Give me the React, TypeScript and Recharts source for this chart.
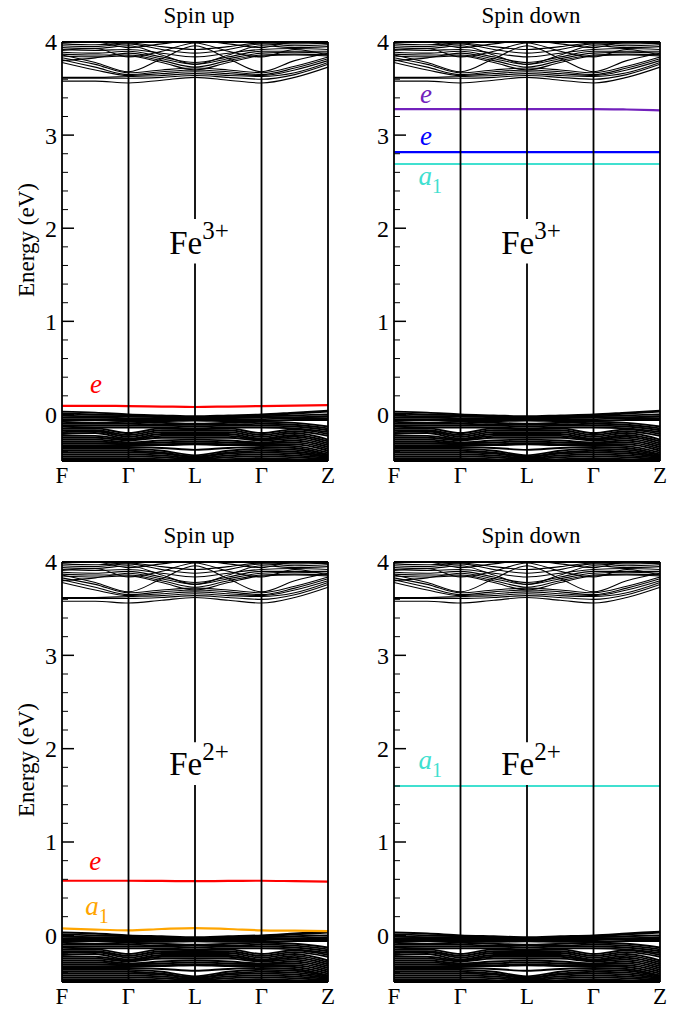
import React from "react";
import { LineChart, Line, XAxis, YAxis, ReferenceLine, ReferenceDot } from "recharts";

const SERIF = "'Liberation Serif', 'Times New Roman', serif";

// k-path sampling: F, Γ, L, Γ, Z at integers, midpoints in between
const K_POINTS = [0, 0.5, 1, 1.5, 2, 2.5, 3, 3.5, 4];
const K_TICKS = [0, 1, 2, 3, 4];
const K_LABELS = ["F", "Γ", "L", "Γ", "Z"];
const Y_TICKS = [
  -0.4, -0.2, 0, 0.2, 0.4, 0.6, 0.8, 1, 1.2, 1.4, 1.6, 1.8, 2, 2.2, 2.4, 2.6,
  2.8, 3, 3.2, 3.4, 3.6, 3.8, 4,
];

// host conduction bands (eV), one row per band
const CONDUCTION_BANDS = [
  [3.58, 3.58, 3.56, 3.59, 3.62, 3.59, 3.56, 3.62, 3.73],
  [3.61, 3.61, 3.61, 3.62, 3.64, 3.62, 3.6, 3.65, 3.76],
  [3.62, 3.62, 3.63, 3.64, 3.66, 3.64, 3.63, 3.67, 3.78],
  [3.78, 3.7, 3.64, 3.66, 3.68, 3.66, 3.64, 3.7, 3.8],
  [3.81, 3.73, 3.65, 3.68, 3.7, 3.68, 3.65, 3.72, 3.82],
  [3.83, 3.76, 3.67, 3.7, 3.72, 3.7, 3.67, 3.74, 3.84],
  [3.85, 3.84, 3.85, 3.78, 3.7, 3.78, 3.85, 3.86, 3.85],
  [3.87, 3.86, 3.86, 3.8, 3.73, 3.8, 3.86, 3.87, 3.86],
  [3.8, 3.83, 3.88, 3.82, 3.76, 3.82, 3.88, 3.89, 3.88],
  [3.86, 3.78, 3.68, 3.82, 3.96, 3.82, 3.68, 3.8, 3.88],
  [3.89, 3.88, 3.9, 3.84, 3.78, 3.84, 3.9, 3.9, 3.9],
  [3.92, 3.91, 3.92, 3.88, 3.84, 3.88, 3.92, 3.93, 3.92],
  [3.94, 3.93, 3.96, 3.86, 3.76, 3.86, 3.96, 3.94, 3.95],
  [3.96, 3.95, 3.98, 3.92, 3.88, 3.92, 3.98, 3.96, 3.97],
  [3.98, 3.97, 3.99, 3.95, 3.92, 3.95, 3.99, 3.98, 3.99],
  [3.91, 3.93, 3.84, 3.9, 3.99, 3.9, 3.84, 3.92, 3.86],
  [3.99, 4.0, 3.94, 3.98, 4.02, 3.98, 3.94, 4.0, 3.98],
];

// host valence bands (eV)
const VALENCE_BANDS = [
  [0.03, 0.02, 0.0, -0.01, -0.02, -0.01, 0.0, 0.02, 0.04],
  [0.01, 0.0, -0.01, -0.02, -0.03, -0.02, -0.01, 0.01, 0.03],
  [-0.01, -0.02, -0.02, -0.03, -0.04, -0.03, -0.02, -0.01, 0.0],
  [-0.03, -0.03, -0.04, -0.04, -0.05, -0.04, -0.03, -0.03, -0.02],
  [-0.05, -0.05, -0.05, -0.05, -0.06, -0.05, -0.05, -0.04, -0.04],
  [-0.07, -0.06, -0.07, -0.07, -0.065, -0.07, -0.07, -0.06, -0.06],
  [-0.08, -0.09, -0.08, -0.09, -0.1, -0.09, -0.08, -0.09, -0.13],
  [-0.1, -0.1, -0.1, -0.11, -0.11, -0.11, -0.1, -0.11, -0.15],
  [-0.12, -0.12, -0.12, -0.12, -0.13, -0.12, -0.12, -0.13, -0.17],
  [-0.13, -0.14, -0.14, -0.14, -0.15, -0.14, -0.14, -0.15, -0.19],
  [-0.15, -0.15, -0.2, -0.15, -0.16, -0.15, -0.2, -0.16, -0.21],
  [-0.17, -0.17, -0.22, -0.17, -0.17, -0.17, -0.22, -0.18, -0.23],
  [-0.19, -0.18, -0.24, -0.19, -0.19, -0.19, -0.24, -0.2, -0.27],
  [-0.21, -0.2, -0.26, -0.21, -0.21, -0.21, -0.26, -0.22, -0.29],
  [-0.23, -0.23, -0.27, -0.23, -0.23, -0.23, -0.27, -0.24, -0.31],
  [-0.25, -0.25, -0.28, -0.25, -0.25, -0.25, -0.28, -0.26, -0.33],
  [-0.27, -0.27, -0.3, -0.28, -0.27, -0.28, -0.3, -0.28, -0.35],
  [-0.29, -0.29, -0.31, -0.3, -0.29, -0.3, -0.31, -0.3, -0.37],
  [-0.31, -0.31, -0.32, -0.32, -0.31, -0.32, -0.32, -0.32, -0.39],
  [-0.33, -0.33, -0.33, -0.33, -0.32, -0.33, -0.33, -0.34, -0.41],
  [-0.35, -0.35, -0.35, -0.36, -0.38, -0.36, -0.35, -0.36, -0.43],
  [-0.37, -0.37, -0.37, -0.39, -0.44, -0.39, -0.37, -0.38, -0.44],
  [-0.39, -0.39, -0.39, -0.41, -0.45, -0.41, -0.39, -0.4, -0.45],
  [-0.41, -0.41, -0.41, -0.42, -0.46, -0.42, -0.41, -0.42, -0.46],
  [-0.43, -0.43, -0.43, -0.44, -0.47, -0.44, -0.43, -0.44, -0.47],
  [-0.45, -0.45, -0.45, -0.46, -0.48, -0.46, -0.45, -0.46, -0.48],
  [-0.47, -0.47, -0.47, -0.48, -0.49, -0.48, -0.47, -0.48, -0.49],
  [-0.49, -0.49, -0.49, -0.49, -0.5, -0.49, -0.49, -0.49, -0.5],
];

// defect levels
const FE3_UP_E = [0.093, 0.092, 0.09, 0.085, 0.08, 0.085, 0.09, 0.095, 0.1];
const FE3_DOWN_E_HIGH = [3.28, 3.28, 3.28, 3.28, 3.28, 3.28, 3.28, 3.275, 3.266];
const FE3_DOWN_E_LOW = [2.817, 2.817, 2.817, 2.817, 2.817, 2.817, 2.817, 2.817, 2.817];
const FE3_DOWN_A1 = [2.69, 2.69, 2.69, 2.69, 2.69, 2.69, 2.69, 2.69, 2.69];
const FE2_UP_E = [0.585, 0.585, 0.585, 0.583, 0.58, 0.583, 0.585, 0.58, 0.575];
const FE2_UP_A1 = [0.075, 0.062, 0.054, 0.068, 0.078, 0.068, 0.054, 0.05, 0.046];
const FE2_DOWN_A1 = [1.6, 1.6, 1.6, 1.6, 1.6, 1.6, 1.6, 1.6, 1.6];

const RED = "#ff0000";
const INDIGO = "#7221bc";
const BLUE = "#0000ff";
const TURQUOISE = "#40e0d0";
const ORANGE = "#ffa500";

type Level = { values: number[]; color: string };
type Tag = { k: number; e: number; text: string; sub?: string; color: string };

const YTick = (props: any) => {
  const { x, y, payload } = props;
  const v = payload.value;
  const major = Math.abs(v - Math.round(v)) < 1e-6;
  return (
    <g>
      <line
        x1={x}
        x2={x + (major ? 12 : 6)}
        y1={y}
        y2={y}
        stroke="#000"
        strokeWidth={major ? 1.5 : 1}
      />
      {major && (
        <text
          x={x - 5}
          y={y}
          dy="0.35em"
          textAnchor="end"
          fontSize={24}
          fontFamily={SERIF}
          style={{ fontFamily: SERIF }}
          fill="#000"
        >
          {v}
        </text>
      )}
    </g>
  );
};

const XTick = (props: any) => {
  const { x, y, payload } = props;
  return (
    <text
      x={x}
      y={y + 22}
      textAnchor="middle"
      fontSize={23}
      fontFamily={SERIF}
      style={{ fontFamily: SERIF }}
      fill="#000"
    >
      {K_LABELS[K_TICKS.indexOf(payload.value)]}
    </text>
  );
};

function Panel({
  title,
  charge,
  levels,
  tags,
  left,
  top,
  width,
  height,
  margin,
  gap,
}: {
  title: string;
  charge: string;
  levels: Level[];
  tags: Tag[];
  left: number;
  top: number;
  width: number;
  height: number;
  margin: { top: number; right: number; bottom: number; left: number };
  gap: [number, number];
}) {
  const data = K_POINTS.map((k, i) => {
    const row: Record<string, number> = { k };
    CONDUCTION_BANDS.forEach((b, j) => (row[`c${j}`] = b[i]));
    VALENCE_BANDS.forEach((b, j) => (row[`v${j}`] = b[i]));
    levels.forEach((l, j) => (row[`d${j}`] = l.values[i]));
    return row;
  });

  const plotLeft = margin.left + 40;
  const plotRight = width - margin.right;

  return (
    <div style={{ position: "absolute", left, top, width, height }}>
      <div
        style={{
          position: "absolute",
          left: (plotLeft + plotRight) / 2 + 4,
          top: 4,
          transform: "translateX(-50%)",
          fontFamily: SERIF,
          fontSize: 23,
          lineHeight: "23px",
          whiteSpace: "nowrap",
        }}
      >
        {title}
      </div>
      <LineChart width={width} height={height} data={data} margin={margin}>
        <XAxis
          dataKey="k"
          type="number"
          domain={[0, 4]}
          ticks={K_TICKS}
          interval={0}
          height={30}
          tickSize={0}
          tickMargin={0}
          axisLine={false}
          tickLine={false}
          tick={<XTick />}
        />
        <YAxis
          type="number"
          domain={[-0.5, 4]}
          allowDataOverflow
          ticks={Y_TICKS}
          interval={0}
          width={40}
          tickSize={0}
          tickMargin={0}
          axisLine={false}
          tickLine={false}
          tick={<YTick />}
        />
        {VALENCE_BANDS.map((_, j) => (
          <Line
            key={`v${j}`}
            dataKey={`v${j}`}
            type="monotone"
            stroke="#000"
            strokeWidth={1.9}
            dot={false}
            activeDot={false}
            isAnimationActive={false}
          />
        ))}
        {CONDUCTION_BANDS.map((_, j) => (
          <Line
            key={`c${j}`}
            dataKey={`c${j}`}
            type="monotone"
            stroke="#000"
            strokeWidth={1.1}
            dot={false}
            activeDot={false}
            isAnimationActive={false}
          />
        ))}
        {levels.map((l, j) => (
          <Line
            key={`d${j}`}
            dataKey={`d${j}`}
            type="monotone"
            stroke={l.color}
            strokeWidth={2.2}
            dot={false}
            activeDot={false}
            isAnimationActive={false}
          />
        ))}
        <ReferenceLine x={1} stroke="#000" strokeWidth={1.8} />
        <ReferenceLine x={3} stroke="#000" strokeWidth={1.8} />
        <ReferenceLine
          segment={[
            { x: 2, y: 4 },
            { x: 2, y: gap[0] },
          ]}
          stroke="#000"
          strokeWidth={1.8}
        />
        <ReferenceLine
          segment={[
            { x: 2, y: gap[1] },
            { x: 2, y: -0.5 },
          ]}
          stroke="#000"
          strokeWidth={1.8}
        />
        <ReferenceLine x={0} stroke="#000" strokeWidth={1.8} />
        <ReferenceLine x={4} stroke="#000" strokeWidth={1.8} />
        <ReferenceLine y={4} stroke="#000" strokeWidth={1.8} />
        <ReferenceLine y={-0.5} stroke="#000" strokeWidth={1.8} />
        <ReferenceDot
          x={2.06}
          y={1.72}
          r={0}
          fill="none"
          stroke="none"
          label={(p: any) => (
            <text
              x={p.viewBox.x}
              y={p.viewBox.y}
              textAnchor="middle"
              fontFamily={SERIF}
              style={{ fontFamily: SERIF }}
              fontSize={33}
              fill="#000"
            >
              Fe
              <tspan dy={-15} fontSize={25}>
                {charge}
              </tspan>
            </text>
          )}
        />
        {tags.map((t, j) => (
          <ReferenceDot
            key={`t${j}`}
            x={t.k}
            y={t.e}
            r={0}
            fill="none"
            stroke="none"
            label={(p: any) => (
              <text
                x={p.viewBox.x}
                y={p.viewBox.y}
                fontFamily={SERIF}
                style={{ fontFamily: SERIF }}
                fontSize={27}
                fontStyle="italic"
                fill={t.color}
              >
                {t.text}
                {t.sub && (
                  <tspan dy={8} fontSize={20} fontStyle="normal">
                    {t.sub}
                  </tspan>
                )}
              </text>
            )}
          />
        ))}
      </LineChart>
    </div>
  );
}

const EnergyLabel = ({ top }: { top: number }) => (
  <div
    style={{
      position: "absolute",
      left: 27,
      top,
      transform: "translate(-50%, -50%) rotate(-90deg)",
      fontFamily: SERIF,
      fontSize: 23,
      whiteSpace: "nowrap",
    }}
  >
    Energy (eV)
  </div>
);

export default function App() {
  const leftMargin = { top: 42, right: 12, bottom: 4, left: 22 };
  const rightMargin = { top: 42, right: 19, bottom: 4, left: 14 };
  return (
    <div
      style={{
        position: "absolute",
        left: 0,
        top: 0,
        width: 679,
        height: 1010,
        overflow: "hidden",
        background: "#fff",
      }}
    >
      <Panel
        title="Spin up"
        charge="3+"
        levels={[{ values: FE3_UP_E, color: RED }]}
        tags={[{ k: 0.42, e: 0.23, text: "e", color: RED }]}
        left={0}
        top={0}
        width={340}
        height={495}
        margin={leftMargin}
        gap={[2.1, 1.62]}
      />
      <Panel
        title="Spin down"
        charge="3+"
        levels={[
          { values: FE3_DOWN_E_HIGH, color: INDIGO },
          { values: FE3_DOWN_E_LOW, color: BLUE },
          { values: FE3_DOWN_A1, color: TURQUOISE },
        ]}
        tags={[
          { k: 0.39, e: 3.345, text: "e", color: INDIGO },
          { k: 0.39, e: 2.894, text: "e", color: BLUE },
          { k: 0.37, e: 2.46, text: "a", sub: "1", color: TURQUOISE },
        ]}
        left={340}
        top={0}
        width={339}
        height={495}
        margin={rightMargin}
        gap={[2.1, 1.62]}
      />
      <Panel
        title="Spin up"
        charge="2+"
        levels={[
          { values: FE2_UP_E, color: RED },
          { values: FE2_UP_A1, color: ORANGE },
        ]}
        tags={[
          { k: 0.41, e: 0.7, text: "e", color: RED },
          { k: 0.35, e: 0.218, text: "a", sub: "1", color: ORANGE },
        ]}
        left={0}
        top={520}
        width={340}
        height={492}
        margin={{ ...leftMargin, bottom: 0 }}
        gap={[2.07, 1.61]}
      />
      <Panel
        title="Spin down"
        charge="2+"
        levels={[{ values: FE2_DOWN_A1, color: TURQUOISE }]}
        tags={[{ k: 0.37, e: 1.78, text: "a", sub: "1", color: TURQUOISE }]}
        left={340}
        top={520}
        width={339}
        height={492}
        margin={{ ...rightMargin, bottom: 0 }}
        gap={[2.07, 1.61]}
      />
      <EnergyLabel top={240} />
      <EnergyLabel top={760} />
    </div>
  );
}
